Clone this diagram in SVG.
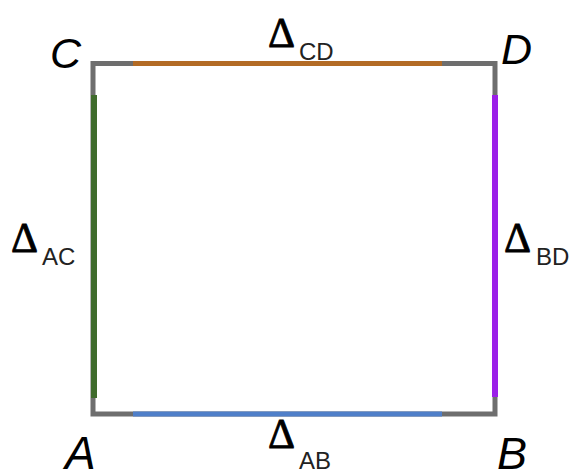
<svg xmlns="http://www.w3.org/2000/svg" width="573" height="475" viewBox="0 0 573 475">
<style>
.pt{font-family:"Liberation Sans",Arial,sans-serif;font-style:italic;font-size:43px;fill:#000}
.dl{font-family:"Liberation Serif","Times New Roman",serif;font-size:42px;fill:#000;stroke:#000;stroke-width:0.8}
.sb{font-family:"Liberation Sans",Arial,sans-serif;font-size:24px;fill:#222}
.edge{fill:none;stroke-linecap:butt}
</style>
<rect width="573" height="475" fill="#fff"/>
<g id="connectors">
<path class="edge" d="M93,414 V63.5 H495 V414 Z" stroke="#6e6e6e" stroke-width="5" stroke-linejoin="miter"/>
<line class="edge" x1="133" y1="63.5" x2="442" y2="63.5" stroke="#b36b25" stroke-width="5"/>
<line class="edge" x1="133" y1="414" x2="442" y2="414" stroke="#4f7fc9" stroke-width="5"/>
<line class="edge" x1="94" y1="95" x2="94" y2="398" stroke="#3f6b2c" stroke-width="6"/>
<line class="edge" x1="495" y1="95" x2="495" y2="397" stroke="#9b1fe8" stroke-width="6"/>
</g>
<g id="node-C"><text class="pt" x="50" y="68">C</text></g>
<g id="node-D"><text class="pt" x="501" y="64">D</text></g>
<g id="node-A"><text class="pt" x="65" y="469" style="font-size:46px">A</text></g>
<g id="node-B"><text class="pt" x="497" y="469" style="font-size:45px">B</text></g>
<g id="label-CD"><text class="dl" x="268" y="47">Δ</text><text class="sb" x="299" y="60">CD</text></g>
<g id="label-AB"><text class="dl" x="268" y="448">Δ</text><text class="sb" x="299" y="469">AB</text></g>
<g id="label-AC"><text class="dl" x="11" y="252">Δ</text><text class="sb" x="42" y="265">AC</text></g>
<g id="label-BD"><text class="dl" x="504" y="252">Δ</text><text class="sb" x="536" y="265">BD</text></g>
</svg>
